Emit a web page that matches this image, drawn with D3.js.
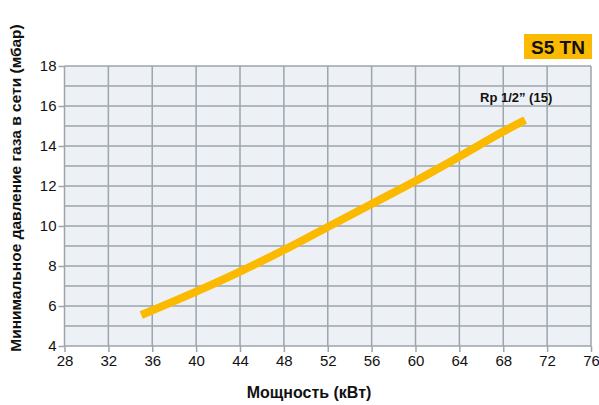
<!DOCTYPE html>
<html><head><meta charset="utf-8">
<script src="https://cdn.jsdelivr.net/npm/d3@7"></script>
<style>body{margin:0;background:#fff}svg{display:block}text{font-family:"Liberation Sans",Arial,sans-serif}</style>
</head><body><svg id="c" width="599" height="405"></svg>
<script>
const powerKW = [35,40,44,48,52,56,60,64,68,70];
const pressureMbar = [5.55,6.72,7.72,8.8,9.95,11.1,12.25,13.47,14.72,15.3];
const xTicks = [28,32,36,40,44,48,52,56,60,64,68,72,76];
const yTicks = [4,6,8,10,12,14,16,18];
const yMinor = [4,5,6,7,8,9,10,11,12,13,14,15,16,17,18];
const seriesLabel = "Rp 1/2” (15)";
const modelLabel = "S5 TN";

const svg = d3.select("#c");
const L=64.5, R=591, T=66, B=346;
const x = d3.scaleLinear().domain([28,76]).range([L,R]);
const y = d3.scaleLinear().domain([4,18]).range([B,T]);
const grid = "#9ba6ae";

svg.append("rect").attr("x",L).attr("y",T).attr("width",R-L).attr("height",B-T).attr("fill","#edf0f4");
const g = svg.append("g");
g.selectAll(".hl").data(yMinor).join("line").attr("x1",L).attr("x2",R)
 .attr("y1",d=>y(d)).attr("y2",d=>y(d)).attr("stroke",grid).attr("stroke-width",1.5);
g.selectAll(".vl").data(xTicks).join("line").attr("y1",T).attr("y2",B)
 .attr("x1",d=>x(d)).attr("x2",d=>x(d)).attr("stroke",grid).attr("stroke-width",1.5);

const xa = svg.append("g").attr("transform",`translate(0,${B})`)
 .call(d3.axisBottom(x).tickValues(xTicks).tickSize(6).tickPadding(3));
const ya = svg.append("g").attr("transform",`translate(${L},0)`)
 .call(d3.axisLeft(y).tickValues(yTicks).tickSize(6).tickPadding(2));
[xa,ya].forEach(a=>{
  a.select(".domain").remove();
  a.selectAll("line").attr("stroke",grid).attr("stroke-width",1.5);
  a.selectAll("text").attr("font-size",15).attr("fill","#111").style("font-family","Liberation Sans, Arial, sans-serif");
});

const line = d3.line().curve(d3.curveMonotoneX).x(d=>x(d[0])).y(d=>y(d[1]));
svg.append("path").datum(powerKW.map((p,i)=>[p,pressureMbar[i]]))
 .attr("d",line).attr("fill","none").attr("stroke","#fbb900").attr("stroke-width",8).attr("stroke-linecap","butt");

svg.append("text").attr("x",480).attr("y",102).attr("font-size",13).attr("font-weight","bold").attr("fill","#111").text(seriesLabel);

svg.append("rect").attr("x",524).attr("y",34).attr("width",68).attr("height",25).attr("fill","#fbb900");
svg.append("text").attr("x",558).attr("y",53.5).attr("text-anchor","middle").attr("font-size",19).attr("font-weight","bold").attr("fill","#111").text(modelLabel);

svg.append("text").attr("x",309).attr("y",398).attr("text-anchor","middle").attr("font-size",16).attr("font-weight","bold").attr("fill","#111").text("Мощность (кВт)");
svg.append("text").attr("transform","translate(21,188) rotate(-90)").attr("text-anchor","middle").attr("font-size",15.5).attr("font-weight","bold").attr("fill","#111").text("Минимальное давление газа в сети (мбар)");
</script></body></html>
